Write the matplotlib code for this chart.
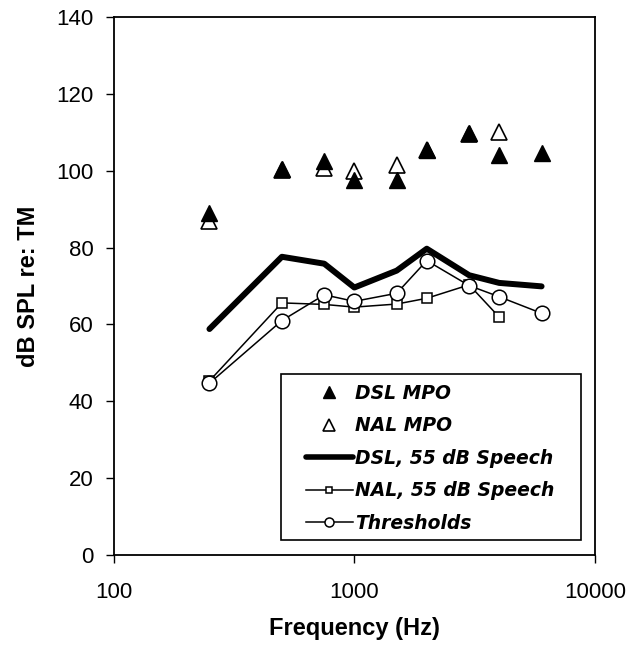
import matplotlib
matplotlib.use('Agg')
import matplotlib.pyplot as plt
from matplotlib.patches import Rectangle
from matplotlib.ticker import FixedLocator, NullLocator, FixedFormatter

# frequencies (Hz)
freqs = [250, 500, 750, 1000, 1500, 2000, 3000, 4000, 6000]

# maximum power output targets
dsl_mpo = [89, 100.5, 102.5, 97.5, 97.5, 105.5, 109.8, 104, 104.5]
nal_freqs = [250, 500, 750, 1000, 1500, 2000, 3000, 4000]
nal_mpo = [86.8, 100.2, 100.8, 99.8, 101.5, 105.3, 109.6, 110]

# 55 dB speech targets
dsl_speech = [58.8, 77.6, 75.8, 69.6, 74.0, 79.7, 72.8, 70.8, 69.9]
nal_speech = [45.3, 65.6, 65.2, 64.5, 65.3, 66.8, 70.3, 61.9]

# hearing thresholds
thresholds = [44.7, 61.0, 67.7, 66.0, 68.1, 76.6, 70.1, 67.2, 62.9]

xticks = [100, 1000, 10000]
yticks = [0, 20, 40, 60, 80, 100, 120, 140]

fig = plt.figure(figsize=(6.37, 6.46), dpi=100)
fig.subplots_adjust(left=0.1785, right=0.934, top=0.9737, bottom=0.1409)
ax = fig.add_subplot(111)

ax.plot(nal_freqs, nal_mpo, '^', ms=11.5, mfc='white', mec='black', mew=1.2,
        label='NAL MPO', zorder=3)
ax.plot(freqs, dsl_mpo, '^', ms=11.5, mfc='black', mec='black',
        label='DSL MPO', zorder=4)
ax.plot(freqs, dsl_speech, '-', color='black', lw=4.3,
        label='DSL, 55 dB Speech', zorder=2, solid_capstyle='round')
ax.plot(nal_freqs, nal_speech, '-s', color='black', lw=1.1, ms=7,
        mfc='white', mec='black', mew=1.1, label='NAL, 55 dB Speech', zorder=3)
ax.plot(freqs, thresholds, '-o', color='black', lw=1.1, ms=10.5,
        mfc='white', mec='black', mew=1.1, label='Thresholds', zorder=3)

ax.set_xscale('log')
ax.set_xlim(100, 10000)
ax.set_ylim(0, 140)
ax.xaxis.set_major_locator(FixedLocator(xticks))
ax.xaxis.set_major_formatter(FixedFormatter([str(t) for t in xticks]))
ax.xaxis.set_minor_locator(NullLocator())
ax.set_yticks(yticks)

for sp in ax.spines.values():
    sp.set_linewidth(1.3)

ax.tick_params(axis='both', direction='out', length=5.5, width=1.0,
               labelsize=16, colors='black')
ax.tick_params(axis='x', pad=14)
ax.tick_params(axis='y', pad=9)
for lab in ax.get_xticklabels() + ax.get_yticklabels():
    lab.set_family('Liberation Sans')

ax.set_xlabel('Frequency (Hz)', fontsize=17, fontweight='bold',
              family='Liberation Sans', labelpad=10)
ax.set_ylabel('dB SPL re: TM', fontsize=17, fontweight='bold',
              family='Liberation Sans', labelpad=12)

# legend box (wider than its contents, like the original)
ax.add_patch(Rectangle((0.3476, 0.0279), 0.6234, 0.3085, transform=ax.transAxes,
                       facecolor='white', edgecolor='black', lw=1.2, zorder=5))

handles, labels = ax.get_legend_handles_labels()
order = [1, 0, 2, 3, 4]
leg = ax.legend([handles[i] for i in order], [labels[i] for i in order],
                loc='upper left', bbox_to_anchor=(0.3995, 0.3185),
                borderaxespad=0, borderpad=0, frameon=False,
                handlelength=2.5, handletextpad=0.1, labelspacing=0.72,
                prop={'family': 'DejaVu Sans', 'weight': 'bold',
                      'style': 'oblique', 'size': 13.5})
leg.set_zorder(6)
sizes = [8.5, 8.5, None, 5, 6.5]
for h, s in zip(leg.legend_handles, sizes):
    if s is not None:
        h.set_markersize(s)
leg.legend_handles[2].set_linewidth(4.0)

plt.savefig('out.png', dpi=100)
